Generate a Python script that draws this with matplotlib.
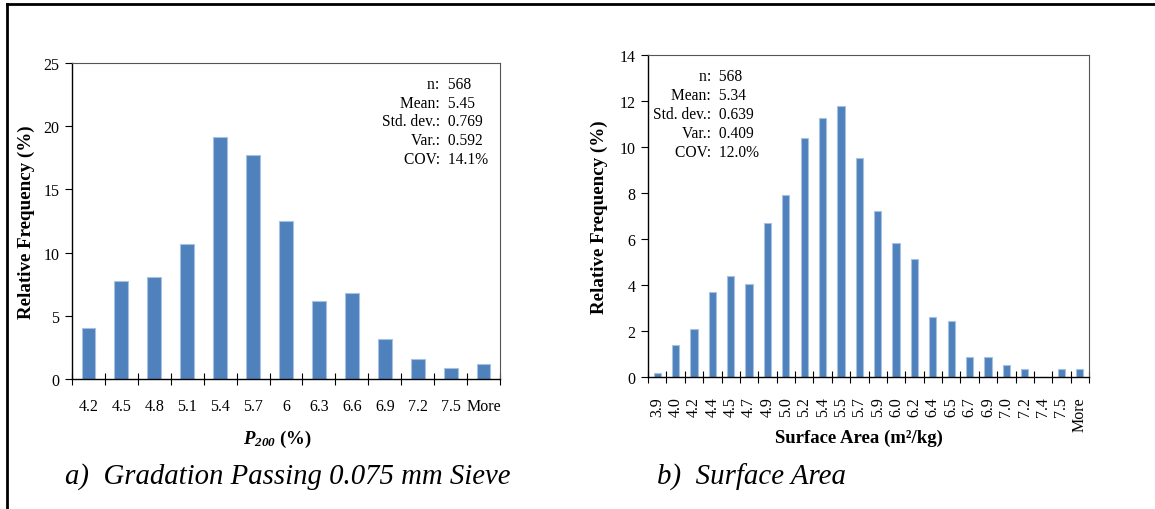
import numpy as np
import matplotlib.pyplot as plt
from matplotlib.lines import Line2D

plt.rcParams['font.family'] = ['Liberation Serif', 'DejaVu Serif']
plt.rcParams['mathtext.fontset'] = 'custom'
plt.rcParams['mathtext.rm'] = 'Liberation Serif'
plt.rcParams['mathtext.it'] = 'Liberation Serif:italic'
plt.rcParams['mathtext.bf'] = 'Liberation Serif:bold'
plt.rcParams['mathtext.bfit'] = 'Liberation Serif:italic:bold'

# Panel a) gradation passing 0.075 mm sieve
p200_bins = ['4.2', '4.5', '4.8', '5.1', '5.4', '5.7', '6', '6.3', '6.6',
             '6.9', '7.2', '7.5', 'More']
p200_freq = [4.03, 7.73, 8.07, 10.68, 19.17, 17.72, 12.47, 6.14, 6.80,
             3.14, 1.56, 0.84, 1.19]
p200_stats_names = ['n:', 'Mean:', 'Std. dev.:', 'Var.:', 'COV:']
p200_stats_vals = ['568', '5.45', '0.769', '0.592', '14.1%']

# Panel b) surface area
sa_bins = ['3.9', '4.0', '4.2', '4.4', '4.5', '4.7', '4.9', '5.0', '5.2',
           '5.4', '5.5', '5.7', '5.9', '6.0', '6.2', '6.4', '6.5', '6.7',
           '6.9', '7.0', '7.2', '7.4', '7.5', 'More']
sa_freq = [0.17, 1.40, 2.10, 3.69, 4.39, 4.04, 6.69, 7.93, 10.38, 11.28,
           11.80, 9.51, 7.21, 5.81, 5.13, 2.63, 2.45, 0.85, 0.85, 0.51,
           0.36, 0.0, 0.36, 0.36]
sa_stats_names = ['n:', 'Mean:', 'Std. dev.:', 'Var.:', 'COV:']
sa_stats_vals = ['568', '5.34', '0.639', '0.409', '12.0%']

W, H = 1155, 510
fig = plt.figure(figsize=(W / 100, H / 100), dpi=100)

bar_col = '#4F81BD'
edge_col = '#A9C1E0'


def px_axes(x0, y0, x1, y1):
    return fig.add_axes([x0 / W, 1 - y1 / H, (x1 - x0) / W, (y1 - y0) / H])


def panel(ax, bins, freq, ymax, ystep, bw, rot, names, vals, sx, sy, dy):
    x = np.arange(len(bins))
    ax.bar(x, freq, width=bw, color=bar_col, edgecolor=edge_col, linewidth=0.8)
    ax.set_xlim(-0.5, len(bins) - 0.5)
    ax.set_ylim(0, ymax)
    ax.set_yticks(np.arange(0, ymax + 0.01, ystep))
    ax.set_xticks(x)
    ax.set_xticklabels(bins, rotation=rot)
    ax.set_xticks(np.arange(-0.5, len(bins)), minor=True)
    ax.tick_params(axis='x', which='major', length=0, labelsize=11.5, pad=14)
    ax.tick_params(axis='x', which='minor', length=8, direction='inout', width=0.8)
    ax.tick_params(axis='y', labelsize=11.5, length=5, width=0.8, pad=4)
    for s in ['top', 'right']:
        ax.spines[s].set_color('#555555')
        ax.spines[s].set_linewidth(0.8)
    for s in ['left', 'bottom']:
        ax.spines[s].set_linewidth(1.0)
    ax.set_ylabel('Relative Frequency (%)', fontsize=13.7, fontweight='bold')
    for i, (n, v) in enumerate(zip(names, vals)):
        ax.text(sx, sy - i * dy, n + ' ', transform=ax.transAxes, ha='right',
                va='center', fontsize=11.2)
        ax.text(sx, sy - i * dy, ' ' + v, transform=ax.transAxes, ha='left',
                va='center', fontsize=11.2)


ax1 = px_axes(72, 64, 500, 380)
panel(ax1, p200_bins, p200_freq, 25, 5, 0.42, 0,
      p200_stats_names, p200_stats_vals, 0.868, 0.933, 0.059)
ax1.set_xlabel(r'$\mathbfit{P}_{\mathbfit{200}}$ (%)', fontsize=13.5,
               fontweight='bold')
ax1.yaxis.set_label_coords(-0.086, 0.5)
ax1.xaxis.set_label_coords(0.479, -0.155)

ax2 = px_axes(648, 56, 1089, 378)
panel(ax2, sa_bins, sa_freq, 14, 2, 0.4, 90,
      sa_stats_names, sa_stats_vals, 0.152, 0.935, 0.059)
ax2.set_xlabel('Surface Area (m\u00b2/kg)', fontsize=13.5, fontweight='bold')
ax2.yaxis.set_label_coords(-0.09, 0.5)
ax2.xaxis.set_label_coords(0.478, -0.16)

fig.text(65 / W, 1 - 477 / H, 'a)  Gradation Passing 0.075 mm Sieve',
         fontsize=20.7, style='italic', va='center', ha='left')
fig.text(657 / W, 1 - 477 / H, 'b)  Surface Area',
         fontsize=20.8, style='italic', va='center', ha='left')

# outer frame (top and left)
fig.add_artist(Line2D([7 / W, 1.0], [1 - 5 / H, 1 - 5 / H], color='black',
                      linewidth=2, transform=fig.transFigure))
fig.add_artist(Line2D([7 / W, 7 / W], [0, 1 - 5 / H], color='black',
                      linewidth=2, transform=fig.transFigure))

fig.savefig('out.png', dpi=100)
